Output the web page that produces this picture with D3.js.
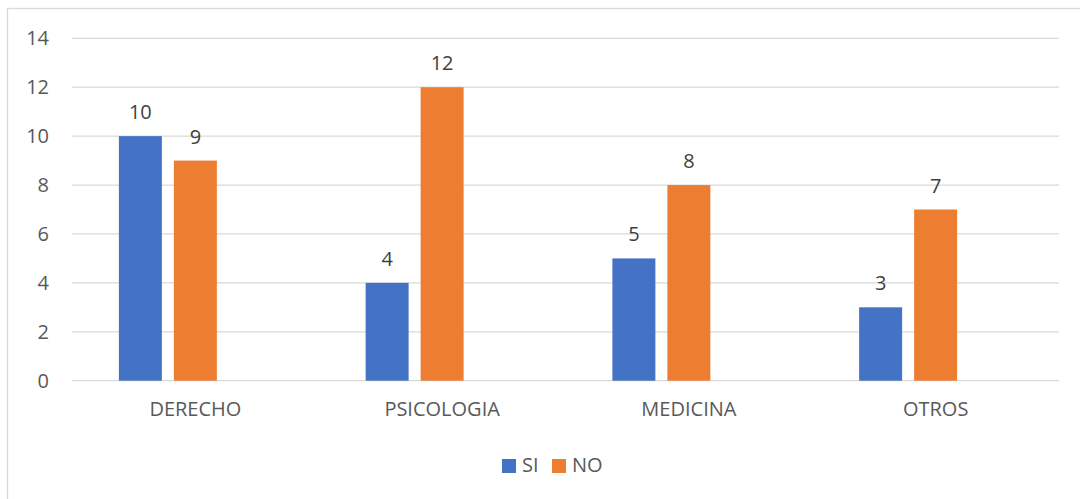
<!DOCTYPE html>
<html>
<head>
<meta charset="utf-8">
<script src="https://cdn.jsdelivr.net/npm/d3@7"></script>
<style>
  html, body { margin: 0; padding: 0; background: #fff; }
  svg { display: block; font-family: "Open Sans", "Noto Sans", sans-serif; }
</style>
</head>
<body>
<svg id="chart" width="1080" height="499"></svg>
<script>
// Categories and series values
const categories = ["DERECHO", "PSICOLOGIA", "MEDICINA", "OTROS"];
const seriesNames = ["SI", "NO"];
const siValues = [10, 4, 5, 3];
const noValues = [9, 12, 8, 7];
// The cluster keeps room for a third (empty) series slot
const slots = ["SI", "NO", "_empty"];
const yTicks = [0, 2, 4, 6, 8, 10, 12, 14];
const colors = { SI: "#4472C4", NO: "#ED7D31" };

const svg = d3.select("#chart");
const plot = { left: 72, right: 1059, top: 38.3, bottom: 380.7 };

// Outer frame (only left and top edges fall inside the canvas)
svg.append("rect")
  .attr("x", 7.5).attr("y", 8.5)
  .attr("width", 1100).attr("height", 520)
  .attr("fill", "none").attr("stroke", "#D9D9D9").attr("stroke-width", 1.3);

const y = d3.scaleLinear().domain([0, 14]).range([plot.bottom, plot.top]);
const x0 = d3.scaleBand().domain(categories)
  .range([plot.left, plot.right]).paddingInner(0.38).paddingOuter(0.19);
const x1 = d3.scaleBand().domain(slots)
  .range([0, x0.bandwidth()]).paddingInner(12 / 55).paddingOuter(0);

// Gridlines
svg.append("g").selectAll("line").data(yTicks).join("line")
  .attr("x1", plot.left).attr("x2", plot.right)
  .attr("y1", d => y(d)).attr("y2", d => y(d))
  .attr("stroke", "#D9D9D9").attr("stroke-width", 1.3);

// Y axis tick labels
const yAxis = d3.axisLeft(y).tickValues(yTicks).tickSize(0).tickPadding(0);
const gy = svg.append("g").attr("transform", "translate(49,0)").call(yAxis);
gy.select(".domain").remove();
gy.selectAll("text")
  .attr("fill", "#595959").attr("font-size", 20)
  .attr("font-family", "'Open Sans', sans-serif");

// X axis category labels
const xAxis = d3.axisBottom(x0).tickSize(0).tickPadding(0);
const gx = svg.append("g").attr("transform", "translate(0,402)").call(xAxis);
gx.select(".domain").remove();
gx.selectAll("text")
  .attr("fill", "#595959").attr("font-size", 20)
  .attr("font-family", "'Open Sans', sans-serif");

// Bars
const rows = categories.map((c, i) => ({ category: c, SI: siValues[i], NO: noValues[i] }));
const groups = svg.append("g").selectAll("g").data(rows).join("g")
  .attr("transform", d => `translate(${x0(d.category)},0)`);

groups.selectAll("rect")
  .data(d => seriesNames.map(s => ({ key: s, value: d[s] })))
  .join("rect")
  .attr("x", d => x1(d.key))
  .attr("y", d => y(d.value))
  .attr("width", x1.bandwidth())
  .attr("height", d => y(0) - y(d.value))
  .attr("fill", d => colors[d.key]);

// Value labels
groups.selectAll("text")
  .data(d => seriesNames.map(s => ({ key: s, value: d[s] })))
  .join("text")
  .attr("x", d => x1(d.key) + x1.bandwidth() / 2)
  .attr("y", d => y(d.value) - 17)
  .attr("text-anchor", "middle")
  .attr("fill", "#404040").attr("font-size", 20)
  .text(d => d.value);

// Legend
const legend = svg.append("g");
const legendItems = [
  { key: "SI", x: 502 },
  { key: "NO", x: 552 }
];
legendItems.forEach(item => {
  legend.append("rect")
    .attr("x", item.x).attr("y", 459)
    .attr("width", 14).attr("height", 14)
    .attr("fill", colors[item.key]);
  legend.append("text")
    .attr("x", item.x + 20).attr("y", 472)
    .attr("fill", "#595959").attr("font-size", 20)
    .text(item.key);
});
</script>
</body>
</html>
